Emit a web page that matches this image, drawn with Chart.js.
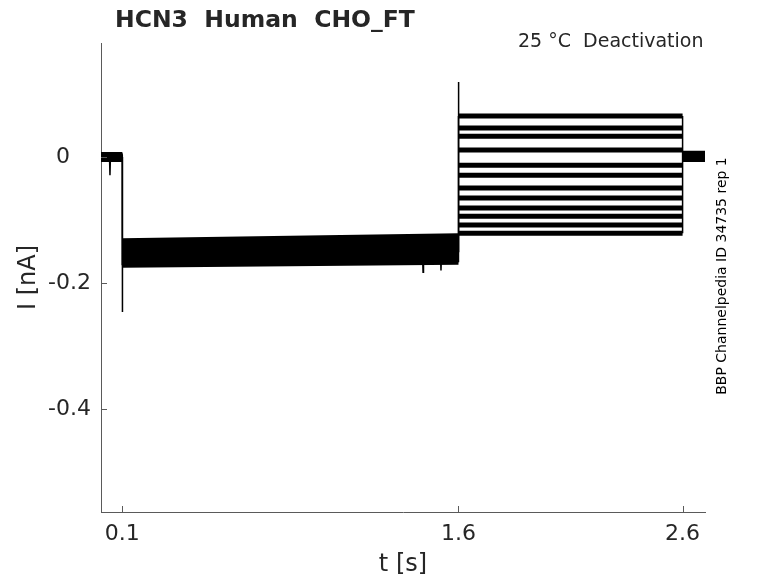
<!DOCTYPE html>
<html><head><meta charset="utf-8">
<script src="https://cdn.jsdelivr.net/npm/chart.js@4.4.0/dist/chart.umd.min.js"></script>
<style>html,body{margin:0;padding:0;background:#fff;}#wrap{width:778px;height:583px;}</style>
</head><body><div id="wrap"><canvas id="c" width="778" height="583"></canvas></div>
<script>
// ---- data (t in s, I in nA) ----
const xTicks = [0.1, 1.6, 2.6];
const yTicks = [0, -0.2, -0.4];
const tStart = 0.005, tOn = 0.1, tTail = 1.6, tOff = 2.6, tEnd = 2.7;
const preLevels  = [0.003, -0.002, 0.001, 0.004, -0.003, 0.000, 0.002, -0.001, 0.003, -0.004, 0.001, 0.000];
const midStart   = [-0.172, -0.168, -0.165, -0.161, -0.158, -0.155, -0.151, -0.148, -0.145, -0.141, -0.137, -0.133];
const midEnd     = [-0.167, -0.163, -0.159, -0.155, -0.151, -0.148, -0.144, -0.141, -0.137, -0.133, -0.129, -0.125];
const tailLevels = [0.065, 0.046, 0.033, 0.011, -0.013, -0.029, -0.049, -0.065, -0.081, -0.094, -0.108, -0.121];
const postLevels = [0.004, -0.002, 0.001, 0.005, -0.004, 0.002, 0.000, 0.003, -0.001, 0.006, -0.003, 0.002];
// transient spikes / glitches: [t, I] pairs, null separates pieces
const spikeT = [0.043, 0.045, 0.047, null, 0.1, 0.1003, 0.1012, null, 1.440, 1.442, 1.444, null, 1.520, 1.522, 1.524, null, 1.6, 1.6002, 1.6010];
const spikeI = [0.000, -0.029, 0.000, null, 0.000, -0.246, -0.165, null, -0.160, -0.183, -0.160, null, -0.155, -0.180, -0.155, null, -0.150, 0.119, 0.060];

const textColor = '#262626';
const axisColor = '#5a5a5a';
const FONT = "'DejaVu Sans', sans-serif";
const GAP = {x: 1, y: null};

// thick, noisy-looking plateaus (one dataset per sweep)
const datasets = tailLevels.map((tl, i) => ({
  data: [
    {x: tStart, y: preLevels[i]}, {x: tOn, y: preLevels[i]}, GAP,
    {x: tOn, y: midStart[i]}, {x: tTail, y: midEnd[i]}, GAP,
    {x: tTail, y: tl}, {x: tOff, y: tl}, GAP,
    {x: tOff, y: postLevels[i]}, {x: tEnd, y: postLevels[i]}
  ],
  borderColor: '#000', borderWidth: 5, borderCapStyle: 'butt', pointRadius: 0, tension: 0, fill: false, spanGaps: false
}));
// thin step transitions of each sweep
const steps = [];
tailLevels.forEach((tl, i) => {
  steps.push({x: tOn, y: preLevels[i]}, {x: tOn, y: midStart[i]}, GAP,
             {x: tTail, y: midEnd[i]}, {x: tTail, y: tl}, GAP,
             {x: tOff, y: tl}, {x: tOff, y: postLevels[i]}, GAP);
});
datasets.push({data: steps, borderColor: '#000', borderWidth: 1.5, pointRadius: 0, tension: 0, fill: false, spanGaps: false});
datasets.push({
  data: spikeT.map((t, i) => ({x: t === null ? 1 : t, y: spikeI[i]})),
  borderColor: '#000', borderWidth: 1.5, pointRadius: 0, tension: 0, fill: false, spanGaps: false
});

const innerTicks = {
  id: 'innerTicks',
  afterDatasetsDraw(chart) {
    const {ctx, chartArea: a, scales: {x, y}} = chart;
    ctx.save();
    ctx.strokeStyle = axisColor; ctx.lineWidth = 1;
    ctx.beginPath();
    xTicks.forEach(v => { const p = Math.round(x.getPixelForValue(v)) + 0.5; ctx.moveTo(p, a.bottom); ctx.lineTo(p, a.bottom - 6); });
    yTicks.forEach(v => { const p = Math.round(y.getPixelForValue(v)) + 0.5; ctx.moveTo(a.left, p); ctx.lineTo(a.left + 6, p); });
    ctx.stroke();
    ctx.restore();
  },
  afterDraw(chart) {
    const ctx = chart.ctx;
    ctx.save();
    ctx.fillStyle = textColor;
    ctx.textBaseline = 'alphabetic';
    ctx.textAlign = 'left';
    ctx.font = "bold 23.5px " + FONT;
    ctx.fillText('HCN3  Human  CHO_FT', 115, 27);
    ctx.font = "19px " + FONT;
    ctx.fillText('25 °C  Deactivation', 518, 47);
    ctx.translate(726, 276);
    ctx.rotate(-Math.PI / 2);
    ctx.textAlign = 'center';
    ctx.font = "14px " + FONT;
    ctx.fillStyle = '#000';
    ctx.fillText('BBP Channelpedia ID 34735 rep 1', 0, 0);
    ctx.restore();
  }
};

new Chart(document.getElementById('c'), {
  type: 'line',
  data: {datasets},
  plugins: [innerTicks],
  options: {
    responsive: false, animation: false, devicePixelRatio: 1,
    layout: {padding: {left: 0, right: 73, top: 43, bottom: 0}},
    plugins: {legend: {display: false}, tooltip: {enabled: false}},
    scales: {
      x: {
        type: 'linear', min: tStart, max: tEnd,
        afterBuildTicks: s => { s.ticks = xTicks.map(v => ({value: v})); },
        afterFit: s => { s.height = 71; },
        grid: {display: false, drawTicks: false},
        border: {display: true, color: axisColor, width: 1},
        ticks: {color: textColor, font: {family: FONT, size: 22}, padding: 9, maxRotation: 0, autoSkip: false,
                callback: v => String(v)},
        title: {display: true, text: 't [s]', color: textColor, font: {family: FONT, size: 24, lineHeight: 1.2}, padding: {top: 0, bottom: 4}}
      },
      y: {
        type: 'linear', min: -0.5635, max: 0.181,
        afterBuildTicks: s => { s.ticks = yTicks.map(v => ({value: v})); },
        afterFit: s => { s.width = 101; },
        grid: {display: false, drawTicks: false},
        border: {display: true, color: axisColor, width: 1},
        ticks: {color: textColor, font: {family: FONT, size: 22}, padding: 10, autoSkip: false,
                callback: v => (v === 0 ? '0   ' : String(v))},
        title: {display: true, text: 'I [nA]', color: textColor, font: {family: FONT, size: 24, lineHeight: 1.2}, padding: {top: 14, bottom: 0}}
      }
    }
  }
});
</script></body></html>
